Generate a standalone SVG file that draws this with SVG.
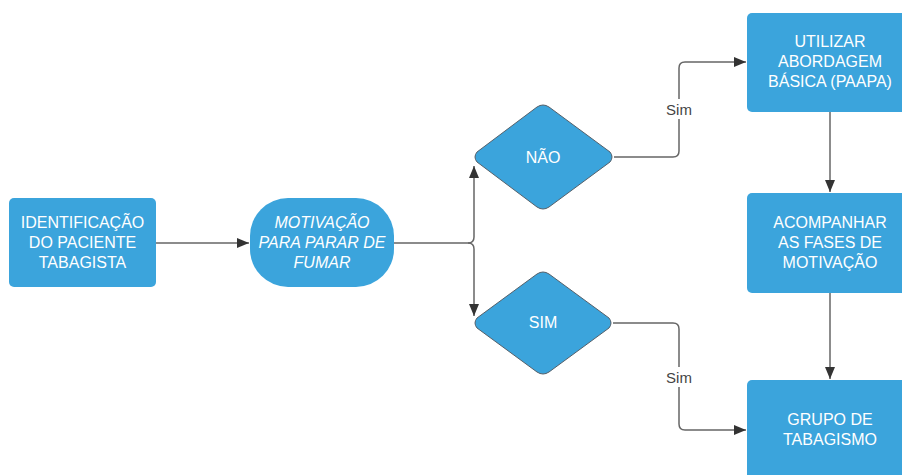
<svg xmlns="http://www.w3.org/2000/svg" width="902" height="475" viewBox="0 0 902 475">
  <style>
    .box { fill: #3ba4dc; }
    .dia { fill: #3ba4dc; stroke: #55606a; stroke-width: 1; stroke-linejoin: round; }
    .t { font-family: "Liberation Sans", Arial, sans-serif; font-size: 16px; fill: #ffffff; text-anchor: middle; dominant-baseline: central; }
    .it { font-style: italic; }
    .conn { fill: none; stroke: #666666; stroke-width: 1.5; }
    .lbl { font-family: "Liberation Sans", Arial, sans-serif; font-size: 15px; fill: #444444; text-anchor: middle; dominant-baseline: central; }
    .lblbg { fill: #ffffff; }
  </style>
  <defs>
    <marker id="arrow" viewBox="0 0 12 10" refX="12" refY="5" markerWidth="12" markerHeight="10" markerUnits="userSpaceOnUse" orient="auto">
      <path d="M0,0 L12,5 L0,10 Z" fill="#333333"/>
    </marker>
  </defs>

  <rect width="902" height="475" fill="#ffffff"/>

  <g id="connectors">
    <path class="conn" d="M156,243 L249,243" marker-end="url(#arrow)"/>
    <path class="conn" d="M393,243 L468,243 Q474,243 474,237 L474,166" marker-end="url(#arrow)"/>
    <path class="conn" d="M468,243 Q474,243 474,249 L474,316" marker-end="url(#arrow)"/>
    <path class="conn" d="M614,157 L673,157 Q679,157 679,151 L679,68 Q679,62 685,62 L746,62" marker-end="url(#arrow)"/>
    <path class="conn" d="M613,323 L673,323 Q679,323 679,329 L679,424 Q679,430 685,430 L746,430" marker-end="url(#arrow)"/>
    <path class="conn" d="M830,112 L830,192" marker-end="url(#arrow)"/>
    <path class="conn" d="M830,293 L830,379" marker-end="url(#arrow)"/>
    <rect class="lblbg" x="664" y="99" width="30" height="20"/>
    <text class="lbl" x="679" y="109">Sim</text>
    <rect class="lblbg" x="664" y="367" width="30" height="20"/>
    <text class="lbl" x="679" y="377">Sim</text>
  </g>

  <g id="identificacao">
    <rect class="box" x="9" y="198" width="147" height="89" rx="5"/>
    <text class="t" x="82.5" y="222">IDENTIFICAÇÃO</text>
    <text class="t" x="82.5" y="242">DO PACIENTE</text>
    <text class="t" x="82.5" y="262">TABAGISTA</text>
  </g>

  <g id="motivacao">
    <rect class="box" x="250" y="198" width="144" height="89" rx="38"/>
    <text class="t it" x="322" y="222">MOTIVAÇÃO</text>
    <text class="t it" x="322" y="242">PARA PARAR DE</text>
    <text class="t it" x="322" y="262">FUMAR</text>
  </g>

  <g id="nao">
    <path class="dia" d="M543,105 Q546,105 549,107 L610,152 Q614,157 610,162 L549,207 Q543,211 537,207 L477,162 Q473,157 477,152 L537,107 Q540,105 543,105 Z"/>
    <text class="t" x="543" y="157">NÃO</text>
  </g>

  <g id="sim">
    <path class="dia" d="M543,272 Q546,272 549,274 L609,318 Q613,323 609,328 L549,372 Q543,376 537,372 L477,328 Q473,323 477,318 L537,274 Q540,272 543,272 Z"/>
    <text class="t" x="543" y="322">SIM</text>
  </g>

  <g id="abordagem">
    <rect class="box" x="747" y="13" width="166" height="99" rx="5"/>
    <text class="t" x="830" y="41">UTILIZAR</text>
    <text class="t" x="830" y="61">ABORDAGEM</text>
    <text class="t" x="830" y="81">BÁSICA (PAAPA)</text>
  </g>

  <g id="acompanhar">
    <rect class="box" x="747" y="193" width="166" height="100" rx="5"/>
    <text class="t" x="830" y="222">ACOMPANHAR</text>
    <text class="t" x="830" y="242">AS FASES DE</text>
    <text class="t" x="830" y="262">MOTIVAÇÃO</text>
  </g>

  <g id="grupo">
    <rect class="box" x="747" y="380" width="166" height="100" rx="5"/>
    <text class="t" x="830" y="419">GRUPO DE</text>
    <text class="t" x="830" y="439">TABAGISMO</text>
  </g>
</svg>
